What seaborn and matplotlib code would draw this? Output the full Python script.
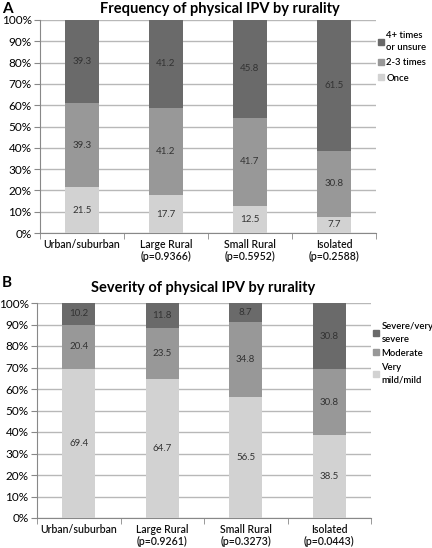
import numpy as np
import seaborn as sns
import matplotlib.pyplot as plt
from matplotlib.patches import Patch
from matplotlib.ticker import PercentFormatter

# ===== DATA =====
groups_a = ["Urban/suburban", "Large Rural\n(p=0.9366)", "Small Rural\n(p=0.5952)", "Isolated\n(p=0.2588)"]
groups_b = ["Urban/suburban", "Large Rural\n(p=0.9261)", "Small Rural\n(p=0.3273)", "Isolated\n(p=0.0443)"]

# frequency (bottom -> top)
freq_once = [21.5, 17.7, 12.5, 7.7]
freq_2_3 = [39.3, 41.2, 41.7, 30.8]
freq_4plus = [39.3, 41.2, 45.8, 61.5]
freq_labels = ["Once", "2-3 times", "4+ times\nor unsure"]

# severity (bottom -> top)
sev_mild = [69.4, 64.7, 56.5, 38.5]
sev_moderate = [20.4, 23.5, 34.8, 30.8]
sev_severe = [10.2, 11.8, 8.7, 30.8]
sev_labels = ["Very\nmild/mild", "Moderate", "Severe/very\nsevere"]

colors = ["#d2d2d2", "#989898", "#6a6a6a"]

plt.rcParams['font.family'] = ['Lato', 'DejaVu Sans']
W, H = 432, 548
fig = plt.figure(figsize=(W / 100, H / 100), dpi=100)


def stacked(ax, groups, series, labels, leg_y, line_sp, lab_sp):
    cum = np.cumsum(np.array(series), axis=0)
    # draw tallest first so lower segments cover it
    for i in range(len(series) - 1, -1, -1):
        sns.barplot(x=groups, y=cum[i], color=colors[i], saturation=1,
                    width=0.4, ax=ax, zorder=3, linewidth=0)
    for i, vals in enumerate(series):
        for j, v in enumerate(vals):
            mid = cum[i][j] - v / 2
            ax.text(j, min(mid, 100 - v / 2), f"{v:.1f}", ha="center", va="center",
                    fontsize=7, color="#333333", zorder=4)
    ax.set_ylim(0, 100)
    ax.set_xlim(-0.5, 3.5)
    ax.set_yticks(range(0, 101, 10))
    ax.yaxis.set_major_formatter(PercentFormatter(decimals=0))
    ax.grid(axis="y", color="#b8b8b8", linewidth=1, zorder=0)
    ax.set_axisbelow(True)
    ax.set_xticks(range(4))
    ax.set_xticklabels(groups, fontsize=7.6, fontweight="semibold", color="#111111",
                       linespacing=1.15)
    ax.set_xticks([-0.5, 0.5, 1.5, 2.5, 3.5], minor=True)
    ax.tick_params(axis="x", which="major", length=0, pad=4)
    ax.tick_params(axis="x", which="minor", length=4, color="#888888")
    ax.tick_params(axis="y", length=4, color="#888888", labelsize=8.5, pad=2)
    ax.set_xlabel("")
    ax.set_ylabel("")
    for s in ["top", "right"]:
        ax.spines[s].set_visible(False)
    for s in ["left", "bottom"]:
        ax.spines[s].set_color("#888888")
    handles = [Patch(color=colors[i]) for i in range(len(series) - 1, -1, -1)]
    leg = ax.legend(handles, labels[::-1], loc="upper left", bbox_to_anchor=(1.0, leg_y),
                    frameon=False, fontsize=6.8, handlelength=0.6, handleheight=0.6,
                    handletextpad=0.3, labelspacing=lab_sp, borderaxespad=0, borderpad=0.2)
    for t in leg.get_texts():
        t.set_fontweight("semibold")
        t.set_linespacing(line_sp)


ax_a = fig.add_axes([40 / W, 1 - 233 / H, 336 / W, 213 / H])
stacked(ax_a, groups_a, [freq_once, freq_2_3, freq_4plus], freq_labels, 0.955, 1.3, 0.7)
fig.text(220 / W, 1 - 9 / H, "Frequency of physical IPV by rurality", ha="center", va="center",
         fontsize=10.5, fontweight="bold")
fig.text(2 / W, 1 - 9 / H, "A", ha="left", va="center", fontsize=11, fontweight="bold")

ax_b = fig.add_axes([37 / W, 1 - 518 / H, 334 / W, 215 / H])
stacked(ax_b, groups_b, [sev_mild, sev_moderate, sev_severe], sev_labels, 0.92, 1.5, 0.55)
fig.text(203 / W, 1 - 288 / H, "Severity of physical IPV by rurality", ha="center", va="center",
         fontsize=10.5, fontweight="bold")
fig.text(2 / W, 1 - 283 / H, "B", ha="left", va="center", fontsize=11, fontweight="bold")

plt.savefig("out.png", dpi=100)
